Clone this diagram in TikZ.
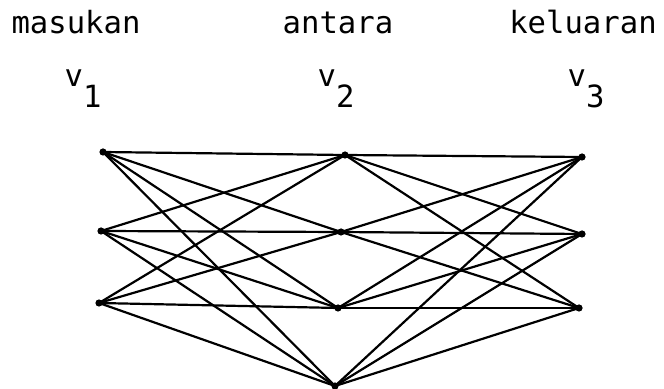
\documentclass[tikz,border=0pt]{standalone}
\usepackage{fontspec}
\newfontfamily\typefont{DejaVu Sans Mono}
\usetikzlibrary{positioning,backgrounds}
\tikzset{
  gv/.style={circle,fill=black,inner sep=0pt,minimum size=3.6pt},
  gedge/.style={line width=1.1pt,black},
  lyrlbl/.style={font=\typefont\fontsize{15.3}{18}\selectfont,anchor=base,inner sep=0pt},
}

\begin{document}
\begin{tikzpicture}[x=0.5pt,y=-0.5pt]
  \useasboundingbox (0,0) rectangle (664,389);
  % layer names
  \node[lyrlbl] (tmasukan) at (76,34) {masukan};
  \node[lyrlbl] (tantara) at (338,34) {antara};
  \node[lyrlbl] (tkeluaran) at (583,34) {keluaran};
  \foreach \j/\x in {1/83,2/336,3/586} {
    \node[lyrlbl] (tv\j) at (\x,87) {v\raisebox{-1.25ex}{\j}};
  }
  % units
  \foreach \i/\x/\y in {1/103/152,2/101/231,3/99/303} {
    \node[gv] (m\i) at (\x,\y) {};
  }
  \foreach \i/\x/\y in {1/345/155,2/341/232,3/338/308,4/335/386} {
    \node[gv] (a\i) at (\x,\y) {};
  }
  \foreach \i/\x/\y in {1/582/157,2/582/234,3/579/308} {
    \node[gv] (k\i) at (\x,\y) {};
  }
  \begin{scope}[on background layer]
    \foreach \i in {1,...,3} {
      \foreach \j in {1,...,4} {
        \draw[gedge] (m\i.center)--(a\j.center);
        \draw[gedge] (a\j.center)--(k\i.center);
      }
    }
  \end{scope}
\end{tikzpicture}
\end{document}
